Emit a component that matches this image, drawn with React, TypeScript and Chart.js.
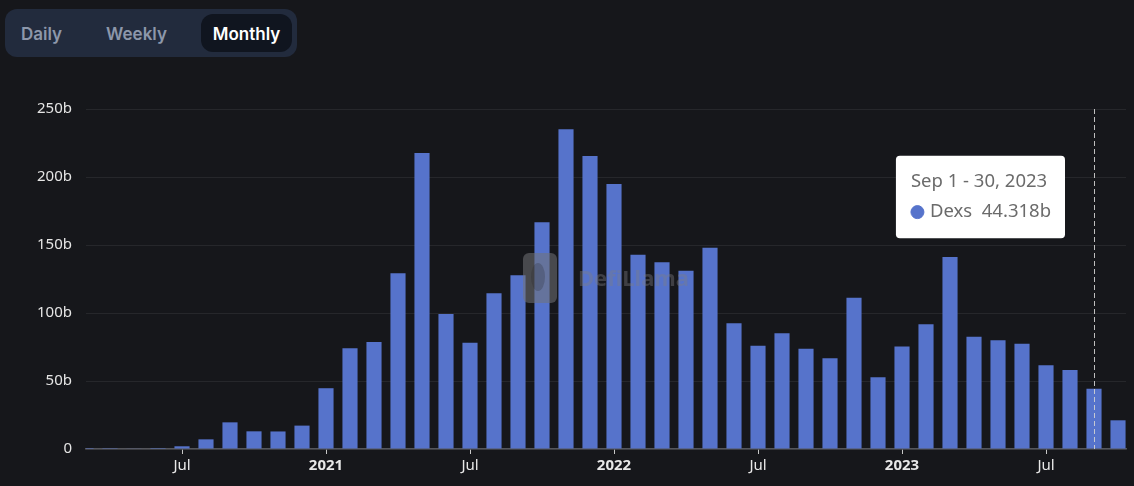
import React, { useEffect, useRef } from "react";
import { Chart, registerables, Tooltip } from "chart.js";

Chart.register(...registerables);

// ---- data (monthly DEX volume, billions USD) ----
const MONTHS = [
  "Mar 2020", "Apr 2020", "May 2020", "Jun 2020", "Jul 2020", "Aug 2020", "Sep 2020", "Oct 2020", "Nov 2020", "Dec 2020",
  "Jan 2021", "Feb 2021", "Mar 2021", "Apr 2021", "May 2021", "Jun 2021", "Jul 2021", "Aug 2021", "Sep 2021", "Oct 2021", "Nov 2021", "Dec 2021",
  "Jan 2022", "Feb 2022", "Mar 2022", "Apr 2022", "May 2022", "Jun 2022", "Jul 2022", "Aug 2022", "Sep 2022", "Oct 2022", "Nov 2022", "Dec 2022",
  "Jan 2023", "Feb 2023", "Mar 2023", "Apr 2023", "May 2023", "Jun 2023", "Jul 2023", "Aug 2023", "Sep 2023", "Oct 2023",
];

const DEXS_VOLUME_B = [
  0.02, 0.1, 0.3, 0.7, 2.0, 7.1, 19.6, 13.0, 12.9, 17.2,
  44.7, 74.1, 78.7, 129.3, 217.6, 99.3, 78.2, 114.6, 127.8, 166.8, 235.2, 215.4,
  194.8, 142.8, 137.4, 131.0, 147.9, 92.5, 76.0, 85.1, 73.8, 66.7, 111.3, 52.8,
  75.3, 91.8, 141.1, 82.6, 80.0, 77.3, 61.6, 58.1, 44.318, 21.1,
];

const X_TICK_MONTHS = ["Jul 2020", "Jan 2021", "Jul 2021", "Jan 2022", "Jul 2022", "Jan 2023", "Jul 2023"];
const X_TICK_LABELS = ["Jul", "2021", "Jul", "2022", "Jul", "2023", "Jul"];
const Y_TICKS = [0, 50, 100, 150, 200, 250];

const SERIES_NAME = "Dexs";
const TOOLTIP_MONTH = "Sep 2023";
const TOOLTIP_TITLE = "Sep 1 - 30, 2023";
const RANGE_BUTTONS = ["Daily", "Weekly", "Monthly"];
const SELECTED_BUTTON = "Monthly";

const BAR_COLOR = "#5673cb";
const FONT = "'Noto Sans', 'Open Sans', sans-serif";

// custom tooltip positioner: to the left of the hovered bar
(Tooltip.positioners as any).leftOfBar = function (items: any[]) {
  if (!items.length) return false;
  const el = items[0].element;
  return { x: el.x - 29, y: this.chart.chartArea.top + 88 };
};

const watermarkPlugin = {
  id: "watermark",
  afterDatasetsDraw(chart: any) {
    const { ctx, chartArea } = chart;
    const cx = (chartArea.left + chartArea.right) / 2;
    const cy = (chartArea.top + chartArea.bottom) / 2;
    ctx.save();
    ctx.fillStyle = "rgba(115,115,118,0.55)";
    ctx.beginPath();
    (ctx as any).roundRect(cx - 83, cy - 26, 34, 50, 6);
    ctx.fill();
    ctx.fillStyle = "rgba(40,40,44,0.25)";
    ctx.beginPath();
    ctx.ellipse(cx - 68, cy - 2, 7, 14, 0, 0, Math.PI * 2);
    ctx.fill();
    ctx.font = `bold 22px ${FONT}`;
    ctx.fillStyle = "rgba(125,125,130,0.4)";
    ctx.textBaseline = "middle";
    ctx.textAlign = "left";
    ctx.fillText("DefiLlama", cx - 28, cy + 1);
    ctx.restore();
  },
};

const crosshairPlugin = {
  id: "crosshair",
  afterDatasetsDraw(chart: any) {
    const idx = MONTHS.indexOf(TOOLTIP_MONTH);
    if (idx < 0) return;
    const { ctx, chartArea } = chart;
    const x = Math.round(chart.scales.x.getPixelForValue(idx)) + 0.5;
    ctx.save();
    ctx.strokeStyle = "rgba(210,210,210,0.9)";
    ctx.lineWidth = 1;
    ctx.setLineDash([5, 3]);
    ctx.beginPath();
    ctx.moveTo(x, chartArea.top);
    ctx.lineTo(x, chartArea.bottom);
    ctx.stroke();
    ctx.restore();
  },
};

function BarChart() {
  const canvasRef = useRef<HTMLCanvasElement | null>(null);

  useEffect(() => {
    if (!canvasRef.current) return;
    const tickValues = X_TICK_MONTHS.map((m) => MONTHS.indexOf(m));
    const chart = new Chart(canvasRef.current, {
      type: "bar",
      data: {
        datasets: [
          {
            label: SERIES_NAME,
            data: DEXS_VOLUME_B.map((v, i) => ({ x: i, y: v })),
            backgroundColor: BAR_COLOR,
            borderWidth: 0,
            categoryPercentage: 1,
            barPercentage: 0.63,
          },
        ],
      },
      options: {
        responsive: false,
        animation: false,
        events: [],
        layout: { padding: { left: 0, right: 8, top: 109, bottom: 0 } },
        plugins: {
          legend: { display: false },
          tooltip: {
            enabled: true,
            position: "leftOfBar" as any,
            xAlign: "right",
            yAlign: "center",
            caretSize: 0,
            caretPadding: 0,
            backgroundColor: "#ffffff",
            titleColor: "#6b6b6b",
            bodyColor: "#6b6b6b",
            titleFont: { family: FONT, size: 18.5, weight: "normal" },
            bodyFont: { family: FONT, size: 18.5, weight: "normal" },
            padding: { left: 15, right: 14, top: 15, bottom: 15 },
            titleMarginBottom: 8,
            cornerRadius: 4,
            displayColors: true,
            usePointStyle: true,
            boxWidth: 13,
            boxHeight: 13,
            boxPadding: 4,
            callbacks: {
              title: () => TOOLTIP_TITLE,
              label: (ctx: any) => `${SERIES_NAME}  ${ctx.parsed.y.toFixed(3)}b`,
              labelColor: () => ({ borderColor: BAR_COLOR, backgroundColor: BAR_COLOR, borderWidth: 0 }),
              labelPointStyle: () => ({ pointStyle: "circle", rotation: 0 }),
            },
          },
        },
        scales: {
          x: {
            type: "linear",
            min: 0,
            max: 43.333,
            offset: false,
            afterBuildTicks: (scale: any) => {
              scale.ticks = tickValues.map((v) => ({ value: v }));
            },
            afterFit: (scale: any) => {
              scale.height = 37;
            },
            ticks: {
              autoSkip: false,
              maxRotation: 0,
              padding: 3,
              color: "#e8e8e8",
              font: (ctx: any) => {
                const label = ctx.tick ? X_TICK_LABELS[tickValues.indexOf(ctx.tick.value)] : "";
                return { family: FONT, size: 15, weight: /^\d{4}$/.test(label || "") ? "bold" : "normal" };
              },
              callback: (value: any) => {
                const i = tickValues.indexOf(Number(value));
                return i >= 0 ? X_TICK_LABELS[i] : "";
              },
            },
            grid: {
              display: true,
              offset: false,
              drawOnChartArea: false,
              drawTicks: true,
              tickLength: 5,
              color: "#c8c8c8",
            },
            border: { display: true, color: "#55565c", width: 1.5 },
          },
          y: {
            min: 0,
            max: 250,
            afterBuildTicks: (scale: any) => {
              scale.ticks = Y_TICKS.map((v) => ({ value: v }));
            },
            afterFit: (scale: any) => {
              scale.width = 86;
            },
            ticks: {
              padding: 14,
              color: "#e5e5e5",
              font: { family: FONT, size: 15 },
              callback: (v: any) => (Number(v) === 0 ? "0" : `${v}b`),
            },
            grid: {
              color: "rgba(255,255,255,0.07)",
              drawTicks: false,
            },
            border: { display: false },
          },
        },
      } as any,
      plugins: [watermarkPlugin, crosshairPlugin],
    });

    const idx = MONTHS.indexOf(TOOLTIP_MONTH);
    const meta = chart.getDatasetMeta(0);
    const el: any = meta.data[idx];
    chart.tooltip?.setActiveElements([{ datasetIndex: 0, index: idx }], { x: el.x, y: el.y });
    chart.update();

    return () => chart.destroy();
  }, []);

  return <canvas ref={canvasRef} width={1134} height={486} style={{ position: "absolute", left: 0, top: 0 }} />;
}

function RangeSwitcher() {
  const layout: Record<string, { left: number; width: number }> = {
    Daily: { left: 0, width: 73 },
    Weekly: { left: 86, width: 91 },
    Monthly: { left: 196, width: 91 },
  };
  return (
    <div
      style={{
        position: "absolute",
        left: 5,
        top: 9,
        width: 292,
        height: 48,
        borderRadius: 12,
        background: "#222b3d",
        zIndex: 2,
      }}
    >
      {RANGE_BUTTONS.map((b) => {
        const sel = b === SELECTED_BUTTON;
        return (
          <div
            key={b}
            style={{
              position: "absolute",
              left: layout[b].left,
              top: 5,
              width: layout[b].width,
              height: 38,
              lineHeight: "40px",
              textAlign: "center",
              borderRadius: 12,
              background: sel ? "#10151f" : "transparent",
              color: sel ? "#ffffff" : "#8d97aa",
              fontFamily: "Inter, 'Noto Sans', sans-serif",
              fontWeight: 600,
              fontSize: 17,
            }}
          >
            {b}
          </div>
        );
      })}
    </div>
  );
}

export default function App() {
  return (
    <div
      style={{
        position: "fixed",
        left: 0,
        top: 0,
        width: 1134,
        height: 486,
        background: "#16171b",
        overflow: "hidden",
      }}
    >
      <BarChart />
      <RangeSwitcher />
    </div>
  );
}
